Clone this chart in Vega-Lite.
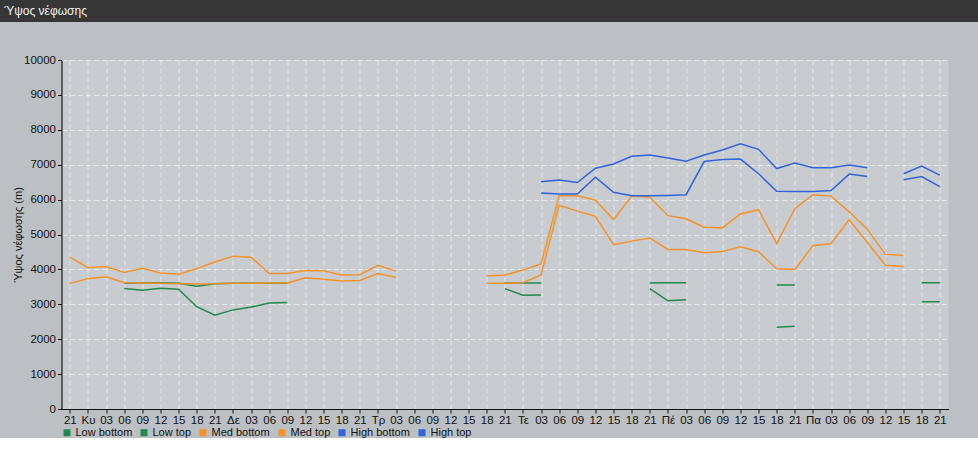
{
  "$schema": "https://vega.github.io/schema/vega-lite/v6.json",
  "padding": 0,
  "background": "#bcc0c4",
  "config": {
    "font": "Liberation Sans",
    "view": {"stroke": null}
  },
  "columns": 1,
  "align": {"column": "all", "row": "none"},
  "center": {"column": true, "row": false},
  "bounds": "full",
  "spacing": 32,
  "resolve": {"scale": {"color": "independent"}, "legend": {"color": "independent"}},
  "concat": [
    {
      "width": 1010,
      "height": 22,
      "view": {"fill": "#363636", "stroke": null},
      "title": {"text": "Ύψος νέφωσης", "anchor": "start", "frame": "group", "offset": -18, "dx": 4, "color": "#f4f4f4", "fontSize": 12, "fontWeight": "normal", "font": "Liberation Sans"},
      "data": {"values": []},
      "mark": {"type": "point", "opacity": 0}
    },
    {
      "width": 887,
      "height": 349,
      "view": {"fill": "#c8ccd0", "stroke": null},
      "data": {"values": [
        {"s":"Low bottom","g":1,"i":3,"v":3450},{"s":"Low bottom","g":1,"i":4,"v":3400},{"s":"Low bottom","g":1,"i":5,"v":3460},{"s":"Low bottom","g":1,"i":6,"v":3430},{"s":"Low bottom","g":1,"i":7,"v":2930},{"s":"Low bottom","g":1,"i":8,"v":2690},{"s":"Low bottom","g":1,"i":9,"v":2840},{"s":"Low bottom","g":1,"i":10,"v":2920},{"s":"Low bottom","g":1,"i":11,"v":3040},{"s":"Low bottom","g":1,"i":12,"v":3050},
        {"s":"Low bottom","g":2,"i":24,"v":3450},{"s":"Low bottom","g":2,"i":25,"v":3260},{"s":"Low bottom","g":2,"i":26,"v":3270},
        {"s":"Low bottom","g":3,"i":32,"v":3450},{"s":"Low bottom","g":3,"i":33,"v":3100},{"s":"Low bottom","g":3,"i":34,"v":3130},
        {"s":"Low bottom","g":4,"i":39,"v":2340},{"s":"Low bottom","g":4,"i":40,"v":2370},
        {"s":"Low bottom","g":5,"i":47,"v":3070},{"s":"Low bottom","g":5,"i":48,"v":3070},
        {"s":"Low top","g":1,"i":3,"v":3600},{"s":"Low top","g":1,"i":4,"v":3610},{"s":"Low top","g":1,"i":5,"v":3620},{"s":"Low top","g":1,"i":6,"v":3600},{"s":"Low top","g":1,"i":7,"v":3520},{"s":"Low top","g":1,"i":8,"v":3590},{"s":"Low top","g":1,"i":9,"v":3600},{"s":"Low top","g":1,"i":10,"v":3600},{"s":"Low top","g":1,"i":11,"v":3600},{"s":"Low top","g":1,"i":12,"v":3600},
        {"s":"Low top","g":2,"i":24,"v":3610},{"s":"Low top","g":2,"i":25,"v":3610},{"s":"Low top","g":2,"i":26,"v":3610},
        {"s":"Low top","g":3,"i":32,"v":3610},{"s":"Low top","g":3,"i":33,"v":3620},{"s":"Low top","g":3,"i":34,"v":3620},
        {"s":"Low top","g":4,"i":39,"v":3550},{"s":"Low top","g":4,"i":40,"v":3550},
        {"s":"Low top","g":5,"i":47,"v":3620},{"s":"Low top","g":5,"i":48,"v":3620},
        {"s":"Med bottom","g":1,"i":0,"v":3600},{"s":"Med bottom","g":1,"i":1,"v":3735},{"s":"Med bottom","g":1,"i":2,"v":3790},{"s":"Med bottom","g":1,"i":3,"v":3620},{"s":"Med bottom","g":1,"i":4,"v":3610},{"s":"Med bottom","g":1,"i":5,"v":3600},{"s":"Med bottom","g":1,"i":6,"v":3590},{"s":"Med bottom","g":1,"i":7,"v":3580},{"s":"Med bottom","g":1,"i":8,"v":3590},{"s":"Med bottom","g":1,"i":9,"v":3600},{"s":"Med bottom","g":1,"i":10,"v":3600},{"s":"Med bottom","g":1,"i":11,"v":3610},{"s":"Med bottom","g":1,"i":12,"v":3610},{"s":"Med bottom","g":1,"i":13,"v":3760},{"s":"Med bottom","g":1,"i":14,"v":3715},{"s":"Med bottom","g":1,"i":15,"v":3670},{"s":"Med bottom","g":1,"i":16,"v":3680},{"s":"Med bottom","g":1,"i":17,"v":3880},{"s":"Med bottom","g":1,"i":18,"v":3770},
        {"s":"Med bottom","g":2,"i":23,"v":3600},{"s":"Med bottom","g":2,"i":24,"v":3600},{"s":"Med bottom","g":2,"i":25,"v":3620},{"s":"Med bottom","g":2,"i":26,"v":3840},{"s":"Med bottom","g":2,"i":27,"v":5840},{"s":"Med bottom","g":2,"i":28,"v":5670},{"s":"Med bottom","g":2,"i":29,"v":5520},{"s":"Med bottom","g":2,"i":30,"v":4710},{"s":"Med bottom","g":2,"i":31,"v":4810},{"s":"Med bottom","g":2,"i":32,"v":4900},{"s":"Med bottom","g":2,"i":33,"v":4570},{"s":"Med bottom","g":2,"i":34,"v":4570},{"s":"Med bottom","g":2,"i":35,"v":4480},{"s":"Med bottom","g":2,"i":36,"v":4510},{"s":"Med bottom","g":2,"i":37,"v":4650},{"s":"Med bottom","g":2,"i":38,"v":4505},{"s":"Med bottom","g":2,"i":39,"v":4020},{"s":"Med bottom","g":2,"i":40,"v":4000},{"s":"Med bottom","g":2,"i":41,"v":4680},{"s":"Med bottom","g":2,"i":42,"v":4740},{"s":"Med bottom","g":2,"i":43,"v":5420},{"s":"Med bottom","g":2,"i":44,"v":4770},{"s":"Med bottom","g":2,"i":45,"v":4120},{"s":"Med bottom","g":2,"i":46,"v":4080},
        {"s":"Med top","g":1,"i":0,"v":4350},{"s":"Med top","g":1,"i":1,"v":4050},{"s":"Med top","g":1,"i":2,"v":4080},{"s":"Med top","g":1,"i":3,"v":3910},{"s":"Med top","g":1,"i":4,"v":4030},{"s":"Med top","g":1,"i":5,"v":3900},{"s":"Med top","g":1,"i":6,"v":3860},{"s":"Med top","g":1,"i":7,"v":4020},{"s":"Med top","g":1,"i":8,"v":4210},{"s":"Med top","g":1,"i":9,"v":4380},{"s":"Med top","g":1,"i":10,"v":4350},{"s":"Med top","g":1,"i":11,"v":3880},{"s":"Med top","g":1,"i":12,"v":3880},{"s":"Med top","g":1,"i":13,"v":3970},{"s":"Med top","g":1,"i":14,"v":3960},{"s":"Med top","g":1,"i":15,"v":3840},{"s":"Med top","g":1,"i":16,"v":3850},{"s":"Med top","g":1,"i":17,"v":4120},{"s":"Med top","g":1,"i":18,"v":3950},
        {"s":"Med top","g":2,"i":23,"v":3810},{"s":"Med top","g":2,"i":24,"v":3840},{"s":"Med top","g":2,"i":25,"v":3980},{"s":"Med top","g":2,"i":26,"v":4160},{"s":"Med top","g":2,"i":27,"v":6110},{"s":"Med top","g":2,"i":28,"v":6110},{"s":"Med top","g":2,"i":29,"v":5980},{"s":"Med top","g":2,"i":30,"v":5430},{"s":"Med top","g":2,"i":31,"v":6100},{"s":"Med top","g":2,"i":32,"v":6070},{"s":"Med top","g":2,"i":33,"v":5540},{"s":"Med top","g":2,"i":34,"v":5450},{"s":"Med top","g":2,"i":35,"v":5210},{"s":"Med top","g":2,"i":36,"v":5190},{"s":"Med top","g":2,"i":37,"v":5590},{"s":"Med top","g":2,"i":38,"v":5710},{"s":"Med top","g":2,"i":39,"v":4740},{"s":"Med top","g":2,"i":40,"v":5740},{"s":"Med top","g":2,"i":41,"v":6140},{"s":"Med top","g":2,"i":42,"v":6100},{"s":"Med top","g":2,"i":43,"v":5650},{"s":"Med top","g":2,"i":44,"v":5150},{"s":"Med top","g":2,"i":45,"v":4430},{"s":"Med top","g":2,"i":46,"v":4400},
        {"s":"High bottom","g":1,"i":26,"v":6190},{"s":"High bottom","g":1,"i":27,"v":6160},{"s":"High bottom","g":1,"i":28,"v":6160},{"s":"High bottom","g":1,"i":29,"v":6640},{"s":"High bottom","g":1,"i":30,"v":6210},{"s":"High bottom","g":1,"i":31,"v":6110},{"s":"High bottom","g":1,"i":32,"v":6110},{"s":"High bottom","g":1,"i":33,"v":6120},{"s":"High bottom","g":1,"i":34,"v":6140},{"s":"High bottom","g":1,"i":35,"v":7090},{"s":"High bottom","g":1,"i":36,"v":7150},{"s":"High bottom","g":1,"i":37,"v":7160},{"s":"High bottom","g":1,"i":38,"v":6740},{"s":"High bottom","g":1,"i":39,"v":6240},{"s":"High bottom","g":1,"i":40,"v":6230},{"s":"High bottom","g":1,"i":41,"v":6230},{"s":"High bottom","g":1,"i":42,"v":6260},{"s":"High bottom","g":1,"i":43,"v":6730},{"s":"High bottom","g":1,"i":44,"v":6660},
        {"s":"High bottom","g":2,"i":46,"v":6570},{"s":"High bottom","g":2,"i":47,"v":6660},{"s":"High bottom","g":2,"i":48,"v":6370},
        {"s":"High top","g":1,"i":26,"v":6510},{"s":"High top","g":1,"i":27,"v":6560},{"s":"High top","g":1,"i":28,"v":6490},{"s":"High top","g":1,"i":29,"v":6900},{"s":"High top","g":1,"i":30,"v":7020},{"s":"High top","g":1,"i":31,"v":7240},{"s":"High top","g":1,"i":32,"v":7280},{"s":"High top","g":1,"i":33,"v":7190},{"s":"High top","g":1,"i":34,"v":7100},{"s":"High top","g":1,"i":35,"v":7280},{"s":"High top","g":1,"i":36,"v":7420},{"s":"High top","g":1,"i":37,"v":7600},{"s":"High top","g":1,"i":38,"v":7440},{"s":"High top","g":1,"i":39,"v":6890},{"s":"High top","g":1,"i":40,"v":7050},{"s":"High top","g":1,"i":41,"v":6910},{"s":"High top","g":1,"i":42,"v":6910},{"s":"High top","g":1,"i":43,"v":6990},{"s":"High top","g":1,"i":44,"v":6910},
        {"s":"High top","g":2,"i":46,"v":6740},{"s":"High top","g":2,"i":47,"v":6960},{"s":"High top","g":2,"i":48,"v":6700}
      ]},
      "mark": {"type": "line", "strokeWidth": 1.5, "clip": true},
      "encoding": {
        "x": {
          "field": "i", "type": "quantitative",
          "scale": {"domain": [-0.46, 48.48], "nice": false, "zero": false},
          "axis": {
            "title": null,
            "values": [0,1,2,3,4,5,6,7,8,9,10,11,12,13,14,15,16,17,18,19,20,21,22,23,24,25,26,27,28,29,30,31,32,33,34,35,36,37,38,39,40,41,42,43,44,45,46,47,48],
            "labelExpr": "datum.value % 8 == 1 ? ['Κυ','Δε','Τρ','Τε','Πέ','Πα'][floor(datum.value / 8)] : format((datum.value * 3 + 21) % 24, '02d')",
            "labelAngle": 0, "labelOverlap": false, "labelFlush": false,
            "labelFontSize": 11.5, "labelColor": "#111111", "labelPadding": 1,
            "tickSize": 4, "tickColor": "#111111", "domainColor": "#111111", "domainWidth": 1.2,
            "grid": true, "gridColor": "#ffffff", "gridOpacity": 0.55, "gridDash": [5, 3]
          }
        },
        "y": {
          "field": "v", "type": "quantitative",
          "scale": {"domain": [0, 10000], "nice": false},
          "axis": {
            "title": ["", "Ύψος νέφωσης (m)"],
            "titleLineHeight": 12, "titlePadding": 0,
            "titleFontSize": 11, "titleFontWeight": "normal", "titleColor": "#111111",
            "values": [0,1000,2000,3000,4000,5000,6000,7000,8000,9000,10000],
            "format": "d",
            "labelFontSize": 11.5, "labelColor": "#111111", "labelPadding": 2,
            "tickSize": 4, "tickColor": "#111111", "domainColor": "#111111", "domainWidth": 1.2,
            "grid": true, "gridColor": "#ffffff", "gridOpacity": 0.55, "gridDash": [5, 3]
          }
        },
        "color": {
          "field": "s", "type": "nominal",
          "scale": {
            "domain": ["Low bottom", "Low top", "Med bottom", "Med top", "High bottom", "High top"],
            "range": ["#23884f", "#23884f", "#f5922c", "#f5922c", "#3163dc", "#3163dc"]
          },
          "legend": {
            "orient": "bottom", "direction": "horizontal", "title": null,
            "symbolType": "square", "symbolSize": 49, "offset": 1,
            "labelFontSize": 11, "labelColor": "#111111", "labelOffset": 3, "columnPadding": 6,
            "encode": {"symbols": {"update": {"fill": {"scale": "concat_1_color", "field": "value"}, "fillOpacity": {"value": 1}, "strokeWidth": {"value": 0}}}}
          }
        },
        "detail": {"field": "g", "type": "nominal"}
      }
    }
  ]
}
